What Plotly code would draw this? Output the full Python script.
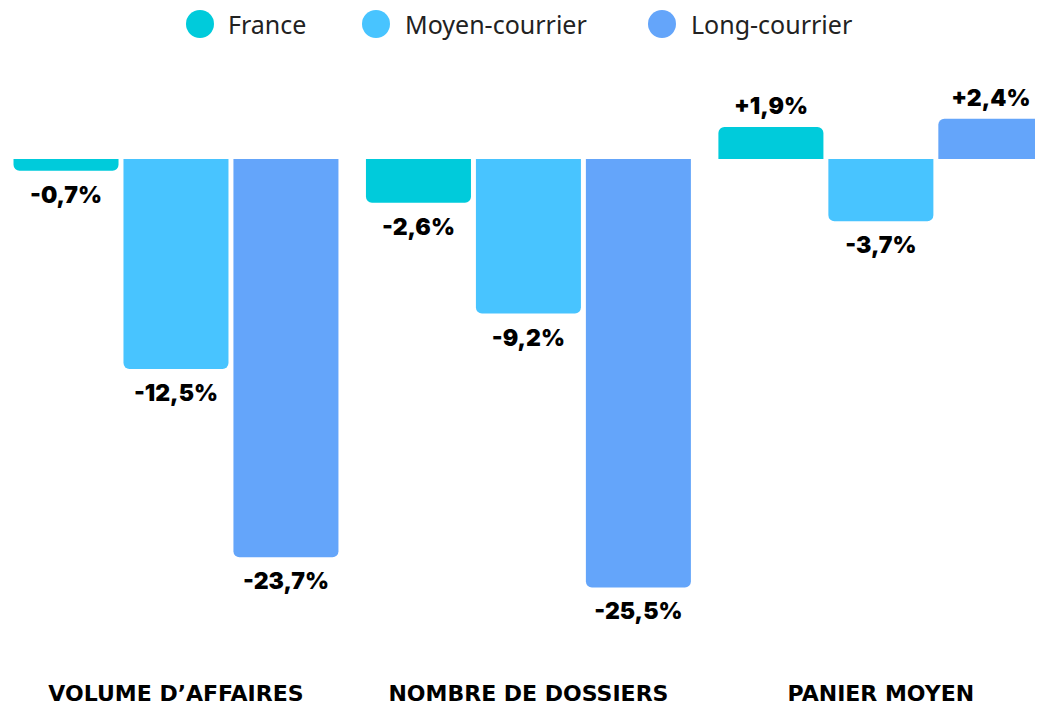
import plotly.graph_objects as go

categories = ["VOLUME D’AFFAIRES", "NOMBRE DE DOSSIERS", "PANIER MOYEN"]
series_names = ["France", "Moyen-courrier", "Long-courrier"]
france = [-0.7, -2.6, 1.9]
moyen = [-12.5, -9.2, -3.7]
long_c = [-23.7, -25.5, 2.4]
colors = ["#00CBDB", "#48C4FF", "#64A5FA"]

def fmt(v):
    return f"{v:+.1f}".replace(".", ",") + "%"

# page has an 8px body margin; figure is sized to fill the rest of the window
W, H = 1035, 701
T, B = 52, 33
plot_h = H - T - B
GAP = 0.064

fig = go.Figure()
for name, vals, col in zip(series_names, [france, moyen, long_c], colors):
    fig.add_trace(go.Bar(
        name=name, x=categories, y=vals,
        marker=dict(color=col, cornerradius=6, line=dict(width=0)),
        showlegend=False, hoverinfo="x+y",
    ))
# value labels: invisible markers (size sets the label offset) + text
for name, vals in zip(series_names, [france, moyen, long_c]):
    fig.add_trace(go.Scatter(
        name=name, x=categories, y=vals, mode="markers+text",
        marker=dict(size=[22 if v < 0 else 10 for v in vals], color="rgba(0,0,0,0)",
                    opacity=0, line=dict(width=0)),
        text=[fmt(v) for v in vals],
        textposition=["bottom center" if v < 0 else "top center" for v in vals],
        textfont=dict(family="Inter", size=23, color="#000000", weight=900),
        cliponaxis=False, showlegend=False, hoverinfo="skip",
    ))

# Manual legend (large circles)
leg_circle_x = [192, 368, 654]
leg_text_x = [218, 395, 681]
leg_y = (H - B - 16) / plot_h
for name, col, cx, tx in zip(series_names, colors, leg_circle_x, leg_text_x):
    fig.add_shape(type="circle", xref="paper", yref="paper",
                  xsizemode="pixel", ysizemode="pixel",
                  xanchor=cx / W, yanchor=leg_y,
                  x0=-14, x1=14, y0=-14, y1=14,
                  fillcolor=col, line=dict(width=0))
    fig.add_annotation(x=tx / W, y=leg_y, xref="paper", yref="paper",
                       text=name, showarrow=False, xanchor="left", yanchor="middle",
                       font=dict(family="Noto Sans", size=25, color="#222222"))

fig.update_layout(
    width=W, height=H,
    margin=dict(l=0, r=0, t=T, b=B, autoexpand=False),
    paper_bgcolor="white", plot_bgcolor="white",
    barmode="group", bargap=GAP, bargroupgap=0.045,
    scattermode="group", scattergap=GAP,
    xaxis=dict(range=[-0.4766, 2.46], showgrid=False, zeroline=False, showline=False,
               ticks="", ticklabelstandoff=2,
               tickfont=dict(family="DejaVu Sans", size=22, color="#000000", weight="bold")),
    yaxis=dict(range=[-30.77, 5.893], visible=False, showgrid=False, zeroline=False),
)

fig.write_html("out.html")
